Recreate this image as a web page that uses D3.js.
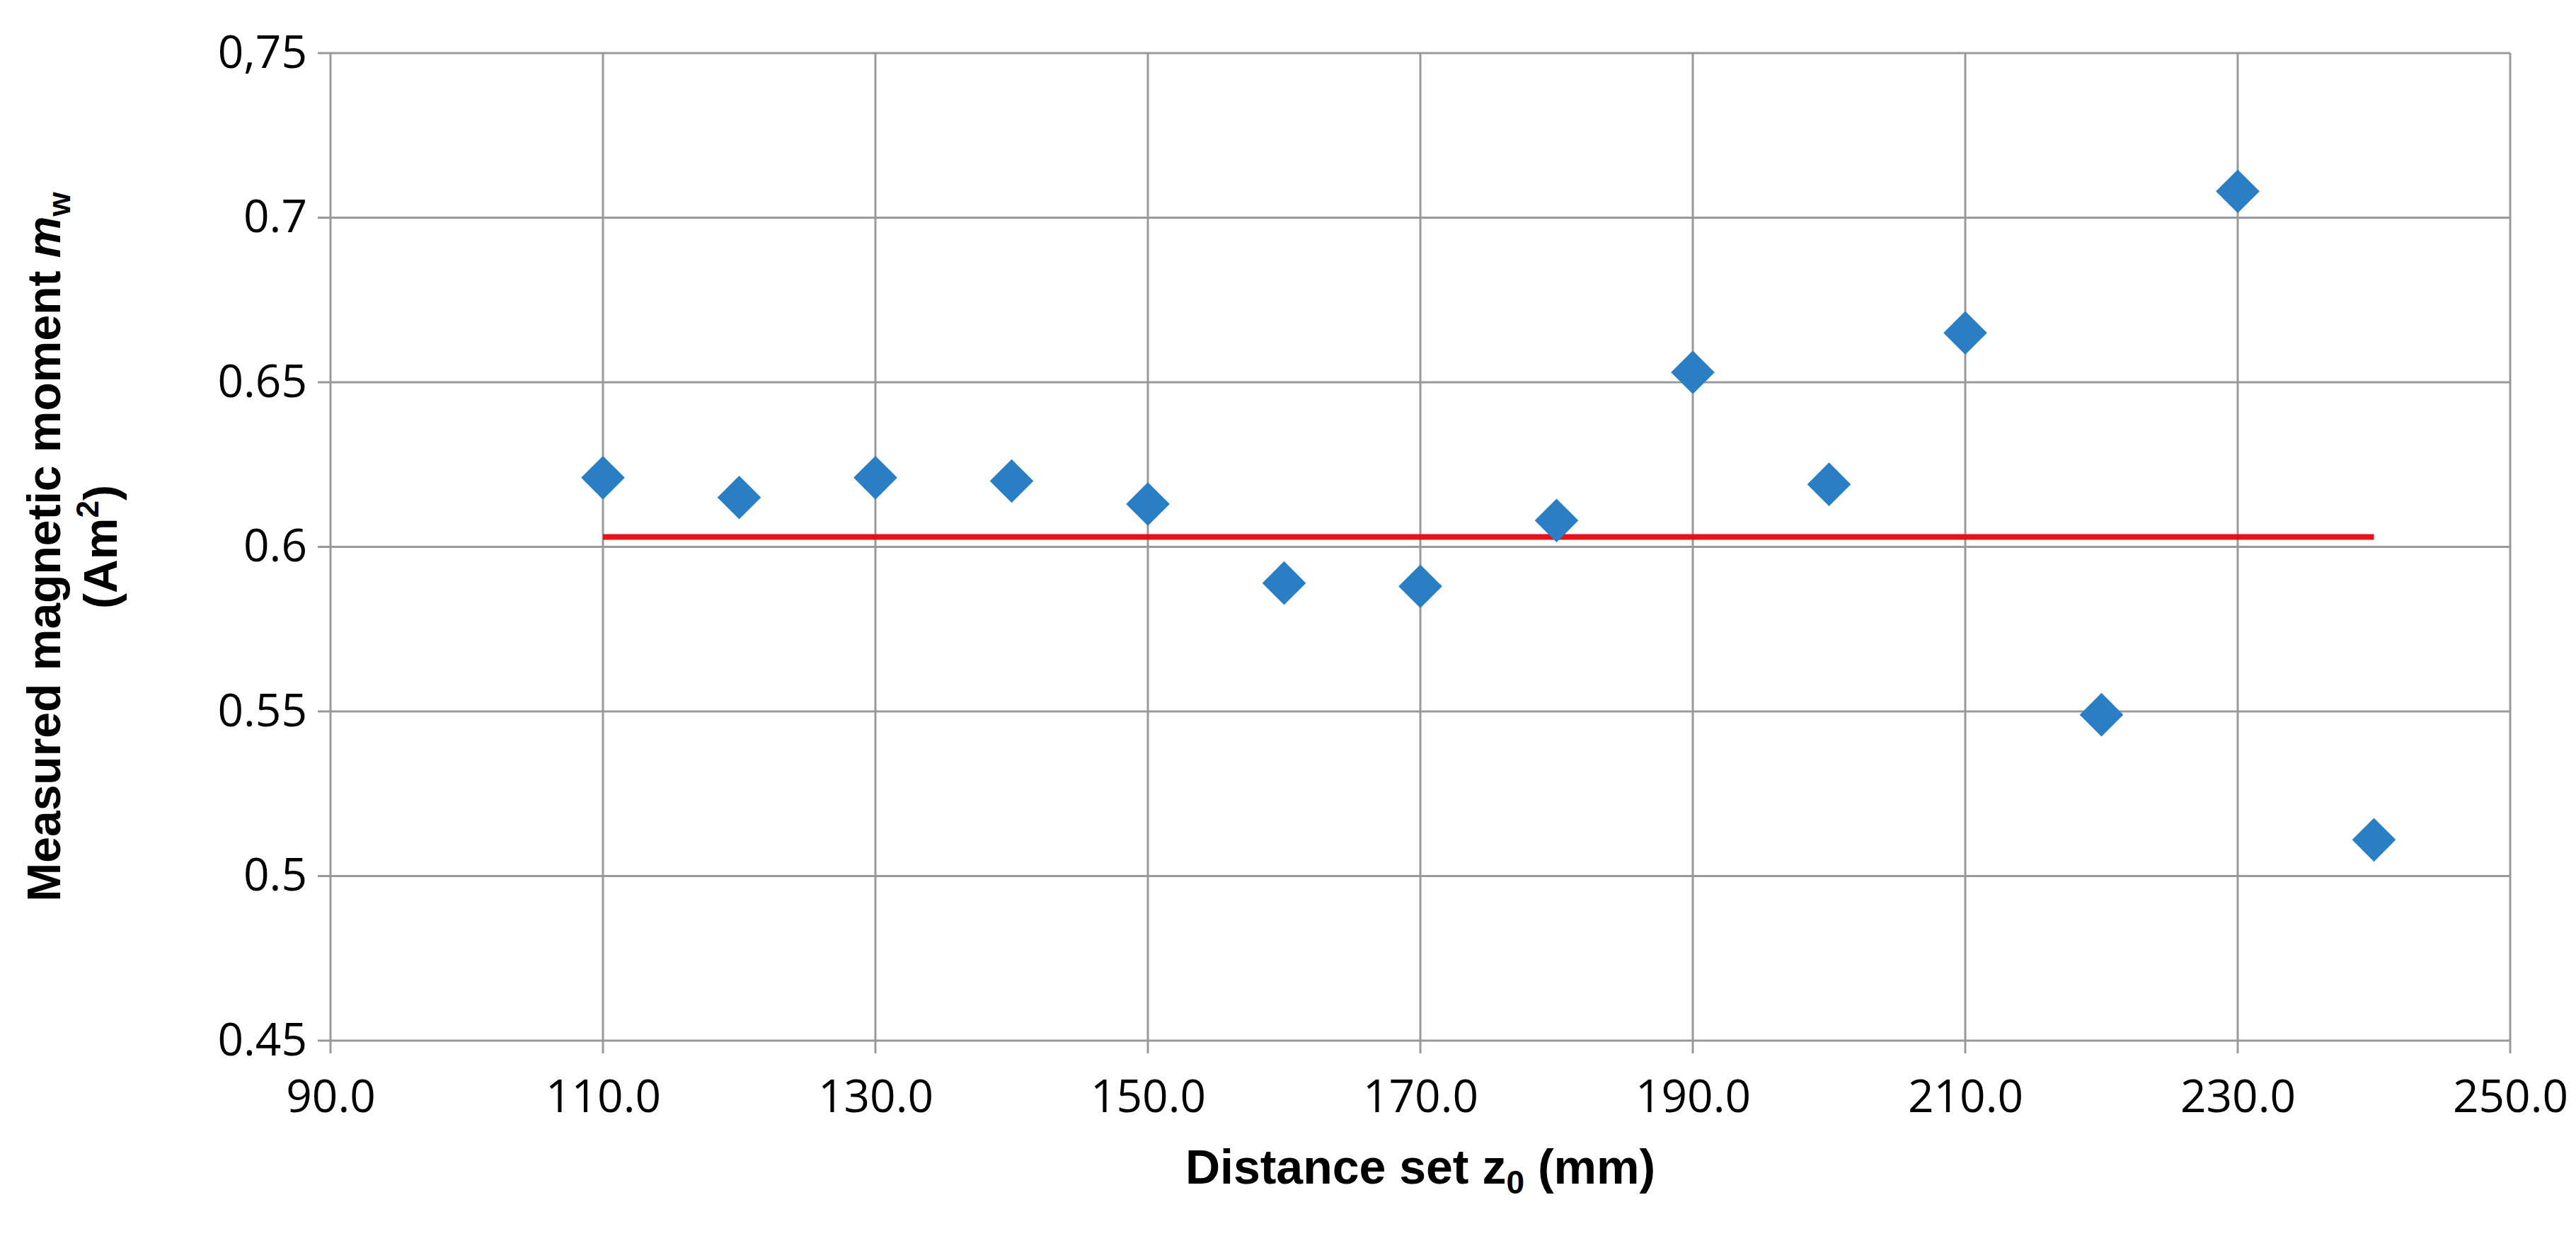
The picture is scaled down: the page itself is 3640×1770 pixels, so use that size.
<!DOCTYPE html>
<html>
<head>
<meta charset="utf-8">
<script src="https://cdn.jsdelivr.net/npm/d3@7"></script>
<style>
  body { margin: 0; background: #fff; }
  .tick text { font-family: "Liberation Sans Narrow", "Open Sans", sans-serif; font-size: 64px; fill: #000; }
</style>
</head>
<body>
<svg id="chart" width="3640" height="1770"></svg>
<script>
// data
const distances = [110, 120, 130, 140, 150, 160, 170, 180, 190, 200, 210, 220, 230, 240]
const moments = [0.621, 0.615, 0.621, 0.620, 0.613, 0.589, 0.588, 0.608, 0.653, 0.619, 0.665, 0.549, 0.708, 0.511]
const meanLine = [[110, 0.603], [240, 0.603]]
const xTicks = [90, 110, 130, 150, 170, 190, 210, 230, 250]
const yTicks = [0.45, 0.5, 0.55, 0.6, 0.65, 0.7, 0.75]

const svg = d3.select("#chart")
const plotLeft = 467, plotRight = 3547, plotTop = 75, plotBottom = 1470

const x = d3.scaleLinear().domain([90, 250]).range([plotLeft, plotRight])
const y = d3.scaleLinear().domain([0.45, 0.75]).range([plotBottom, plotTop])

// grid
svg.append("g").selectAll("line").data(xTicks).enter().append("line")
  .attr("x1", d => x(d)).attr("x2", d => x(d)).attr("y1", plotTop).attr("y2", plotBottom + 18)
  .attr("stroke", "#999").attr("stroke-width", 3)
svg.append("g").selectAll("line").data(yTicks).enter().append("line")
  .attr("x1", plotLeft - 18).attr("x2", plotRight).attr("y1", d => y(d)).attr("y2", d => y(d))
  .attr("stroke", "#999").attr("stroke-width", 3)

// axes (labels only)
svg.append("g").attr("transform", `translate(${plotLeft - 30},0)`)
  .call(d3.axisLeft(y).tickValues(yTicks).tickSize(0)
    .tickFormat(d => d === 0.75 ? "0,75" : String(d)))
const xAxis = svg.append("g").attr("transform", `translate(0,${plotBottom + 40})`)
  .call(d3.axisBottom(x).tickValues(xTicks).tickSize(0).tickFormat(d3.format(".1f")))
svg.selectAll(".domain").remove()
xAxis.selectAll("text").attr("dy", "0.9em")

// red mean line
svg.append("path")
  .datum(meanLine)
  .attr("d", d3.line().x(d => x(d[0])).y(d => y(d[1])))
  .attr("stroke", "#e8101a").attr("stroke-width", 8).attr("fill", "none")

// diamond markers
svg.append("g").selectAll("path").data(distances).enter().append("path")
  .attr("d", d3.symbol().type(d3.symbolSquare).size(1900))
  .attr("transform", (d, i) => `translate(${x(d)},${y(moments[i])}) rotate(45)`)
  .attr("fill", "#2a7fc4")

// titles
svg.append("text")
  .attr("x", (plotLeft + plotRight) / 2).attr("y", 1672)
  .attr("text-anchor", "middle")
  .attr("font-family", "Liberation Sans, Arial, sans-serif").attr("font-weight", "bold").attr("font-size", 68)
  .html('Distance set z<tspan font-size="46" dy="14">0</tspan><tspan dy="-14"> (mm)</tspan>')

const yt = svg.append("text")
  .attr("transform", `translate(95,${(plotTop + plotBottom) / 2}) rotate(-90)`)
  .attr("text-anchor", "middle")
  .attr("font-family", "Liberation Sans, Arial, sans-serif").attr("font-weight", "bold").attr("font-size", 66)
yt.append("tspan").attr("x", 0).attr("dy", "-0.15em").text("Measured magnetic moment  ")
yt.append("tspan").attr("font-style", "italic").text("m")
yt.append("tspan").attr("font-size", 44).attr("dy", 14).text("w")
yt.append("tspan").attr("x", 0).attr("dy", 66).text("(Am")
yt.append("tspan").attr("font-size", 44).attr("dy", -26).text("2")
yt.append("tspan").attr("dy", 26).text(")")
</script>
</body>
</html>
